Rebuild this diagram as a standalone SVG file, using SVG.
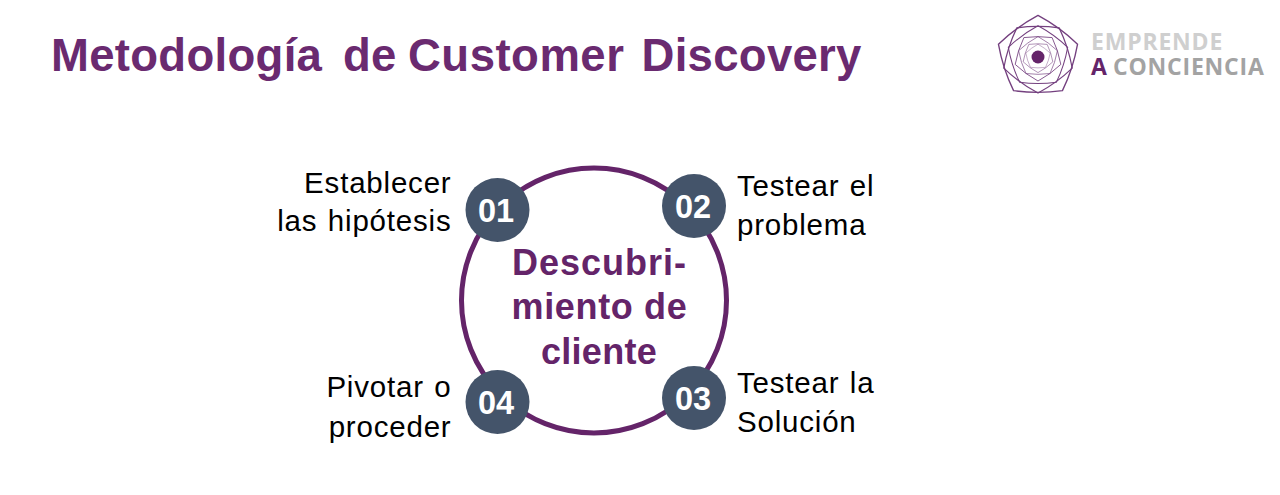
<svg xmlns="http://www.w3.org/2000/svg" width="1280" height="495" viewBox="0 0 1280 495">
<style>
text{font-family:"Liberation Sans",Arial,sans-serif}
.h{font-size:45.5px;font-weight:700;fill:#6a2a70;letter-spacing:.3px}
.t{font-size:29.5px;fill:#000;letter-spacing:.8px;word-spacing:1.5px}
.n{font-size:32.5px;font-weight:700;fill:#fff;text-anchor:middle}
.c{font-size:36px;font-weight:700;fill:#642469;text-anchor:middle}
.d{fill:#44546a}
.p{fill:none;stroke:#74407f;stroke-width:1.3;vector-effect:non-scaling-stroke}
.l{font-family:"Open Sans",sans-serif;font-size:23px;font-weight:700;letter-spacing:.8px}
</style>
<defs>
<path id="pet" d="M0,-40 Q20.9,-28.8 38.04,-12.36 Q33.9,11 23.51,32.36 Q0,35.6 -23.51,32.36 Q-33.9,11 -38.04,-12.36 Q-20.9,-28.8 0,-40Z"/>
</defs>
<rect width="1280" height="495" fill="#fff"/>
<g id="title">
<text class="h" y="71"><tspan x="51">Metodología</tspan> <tspan x="343">de</tspan> <tspan x="408" letter-spacing=".5">Customer</tspan> <tspan x="641.5">Discovery</tspan></text>
</g>
<g id="logo">
<g transform="translate(1038,57)">
<use href="#pet" class="p" transform="scale(1.04)"/>
<use href="#pet" class="p" transform="rotate(36) scale(.9)"/>
<use href="#pet" class="p" transform="scale(.78)"/>
<use href="#pet" class="p" transform="rotate(36) scale(.6)"/>
<use href="#pet" class="p" transform="scale(.51)"/>
<use href="#pet" class="p" transform="rotate(36) scale(.39)"/>
<use href="#pet" class="p" transform="scale(.32)"/>
<circle r="6.5" fill="#642469"/>
</g>
<text class="l" x="1091" y="50" fill="#cfcfcf">EMPRENDE</text>
<text class="l" y="75"><tspan x="1091" fill="#642469">A</tspan> <tspan x="1113" fill="#a3a3a3">CONCIENCIA</tspan></text>
</g>
<g id="connectors">
<circle cx="594" cy="300.5" r="132.5" fill="none" stroke="#642469" stroke-width="5"/>
</g>
<g id="center">
<text class="c" x="599.5" y="275" letter-spacing="1">Descubri-</text>
<text class="c" x="599.5" y="319" letter-spacing=".65">miento de</text>
<text class="c" x="599" y="364" letter-spacing=".3">cliente</text>
</g>
<g id="node-01">
<circle class="d" cx="497.5" cy="210" r="32"/>
<text class="n" x="496" y="222">01</text>
<text class="t" x="451.5" y="193" text-anchor="end">Establecer</text>
<text class="t" x="451.5" y="231" text-anchor="end">las hipótesis</text>
</g>
<g id="node-02">
<circle class="d" cx="694" cy="206" r="32"/>
<text class="n" x="693" y="218">02</text>
<text class="t" x="737" y="196">Testear el</text>
<text class="t" x="737" y="235">problema</text>
</g>
<g id="node-03">
<circle class="d" cx="694" cy="398" r="32"/>
<text class="n" x="693" y="410">03</text>
<text class="t" x="737" y="393">Testear la</text>
<text class="t" x="737" y="432">Solución</text>
</g>
<g id="node-04">
<circle class="d" cx="497.5" cy="402" r="32"/>
<text class="n" x="496" y="414">04</text>
<text class="t" x="451.5" y="397" text-anchor="end">Pivotar o</text>
<text class="t" x="451.5" y="437" text-anchor="end">proceder</text>
</g>
</svg>
